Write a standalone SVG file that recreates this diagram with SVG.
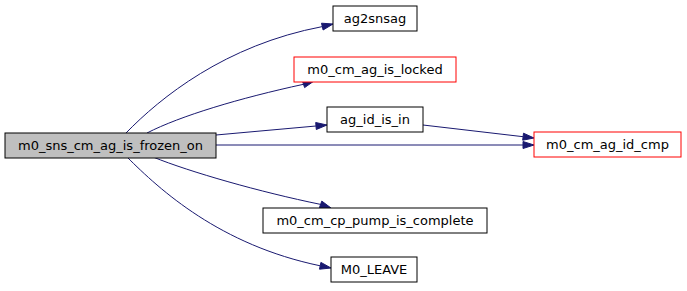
<svg xmlns="http://www.w3.org/2000/svg" width="687" height="291" viewBox="0 0 687 291">
  <style>
    .node rect { fill: #ffffff; stroke: #000000; stroke-width: 1; }
    .node.current rect { fill: #bfbfbf; }
    .node.ext rect { stroke: #ff0000; }
    .node text { font-family: "DejaVu Sans", sans-serif; font-size: 13px; fill: #000000; text-anchor: middle; }
    .edge path { fill: none; stroke: #191970; stroke-width: 1; }
    .edge polygon { fill: #191970; stroke: #191970; stroke-width: 1; }
  </style>
  <rect width="687" height="291" fill="#ffffff"/>

  <!-- call edges -->
  <g id="edges">
    <g class="edge" id="e-ag2snsag">
      <path d="M126,133 C160,98 225,45 322.3,26.6"/>
      <polygon points="333,24 323.1,30 321.5,23.2"/>
    </g>
    <g class="edge" id="e-is-locked">
      <path d="M147,133 C180,116 240,98 303.5,84.3"/>
      <polygon points="314,81 304.6,87.6 302.4,81"/>
    </g>
    <g class="edge" id="e-id-is-in">
      <path d="M216,135 L316,126"/>
      <polygon points="327,125 316.3,129.5 315.7,122.5"/>
    </g>
    <g class="edge" id="e-id-cmp">
      <path d="M216,145 L523,145"/>
      <polygon points="534,145 523,148.5 523,141.5"/>
    </g>
    <g class="edge" id="e-in-cmp">
      <path d="M423,125 L523.1,136.7"/>
      <polygon points="534,138 522.7,140.2 523.5,133.2"/>
    </g>
    <g class="edge" id="e-pump">
      <path d="M153,157 C190,172 260,192 320.6,204.4"/>
      <polygon points="331,208 319.4,207.7 321.8,201.1"/>
    </g>
    <g class="edge" id="e-leave">
      <path d="M127,157 C160,190 220,245 320.2,265.8"/>
      <polygon points="331,268 319.5,269.2 320.9,262.4"/>
    </g>
  </g>

  <g id="n-frozen-on" class="node current">
    <rect x="5" y="133" width="211" height="25"/>
    <text x="110.5" y="150">m0_sns_cm_ag_is_frozen_on</text>
  </g>
  <g id="n-ag2snsag" class="node">
    <rect x="333" y="6" width="84" height="25"/>
    <text x="375" y="23">ag2snsag</text>
  </g>
  <g id="n-is-locked" class="node ext">
    <rect x="294" y="57" width="162" height="25"/>
    <text x="375" y="74">m0_cm_ag_is_locked</text>
  </g>
  <g id="n-id-is-in" class="node">
    <rect x="327" y="107" width="96" height="25"/>
    <text x="375" y="124">ag_id_is_in</text>
  </g>
  <g id="n-id-cmp" class="node ext">
    <rect x="534" y="132" width="147" height="25"/>
    <text x="607.5" y="149">m0_cm_ag_id_cmp</text>
  </g>
  <g id="n-pump" class="node">
    <rect x="263" y="208" width="224" height="25"/>
    <text x="375" y="225">m0_cm_cp_pump_is_complete</text>
  </g>
  <g id="n-leave" class="node">
    <rect x="331" y="257" width="86" height="25"/>
    <text x="374" y="274">M0_LEAVE</text>
  </g>
</svg>
